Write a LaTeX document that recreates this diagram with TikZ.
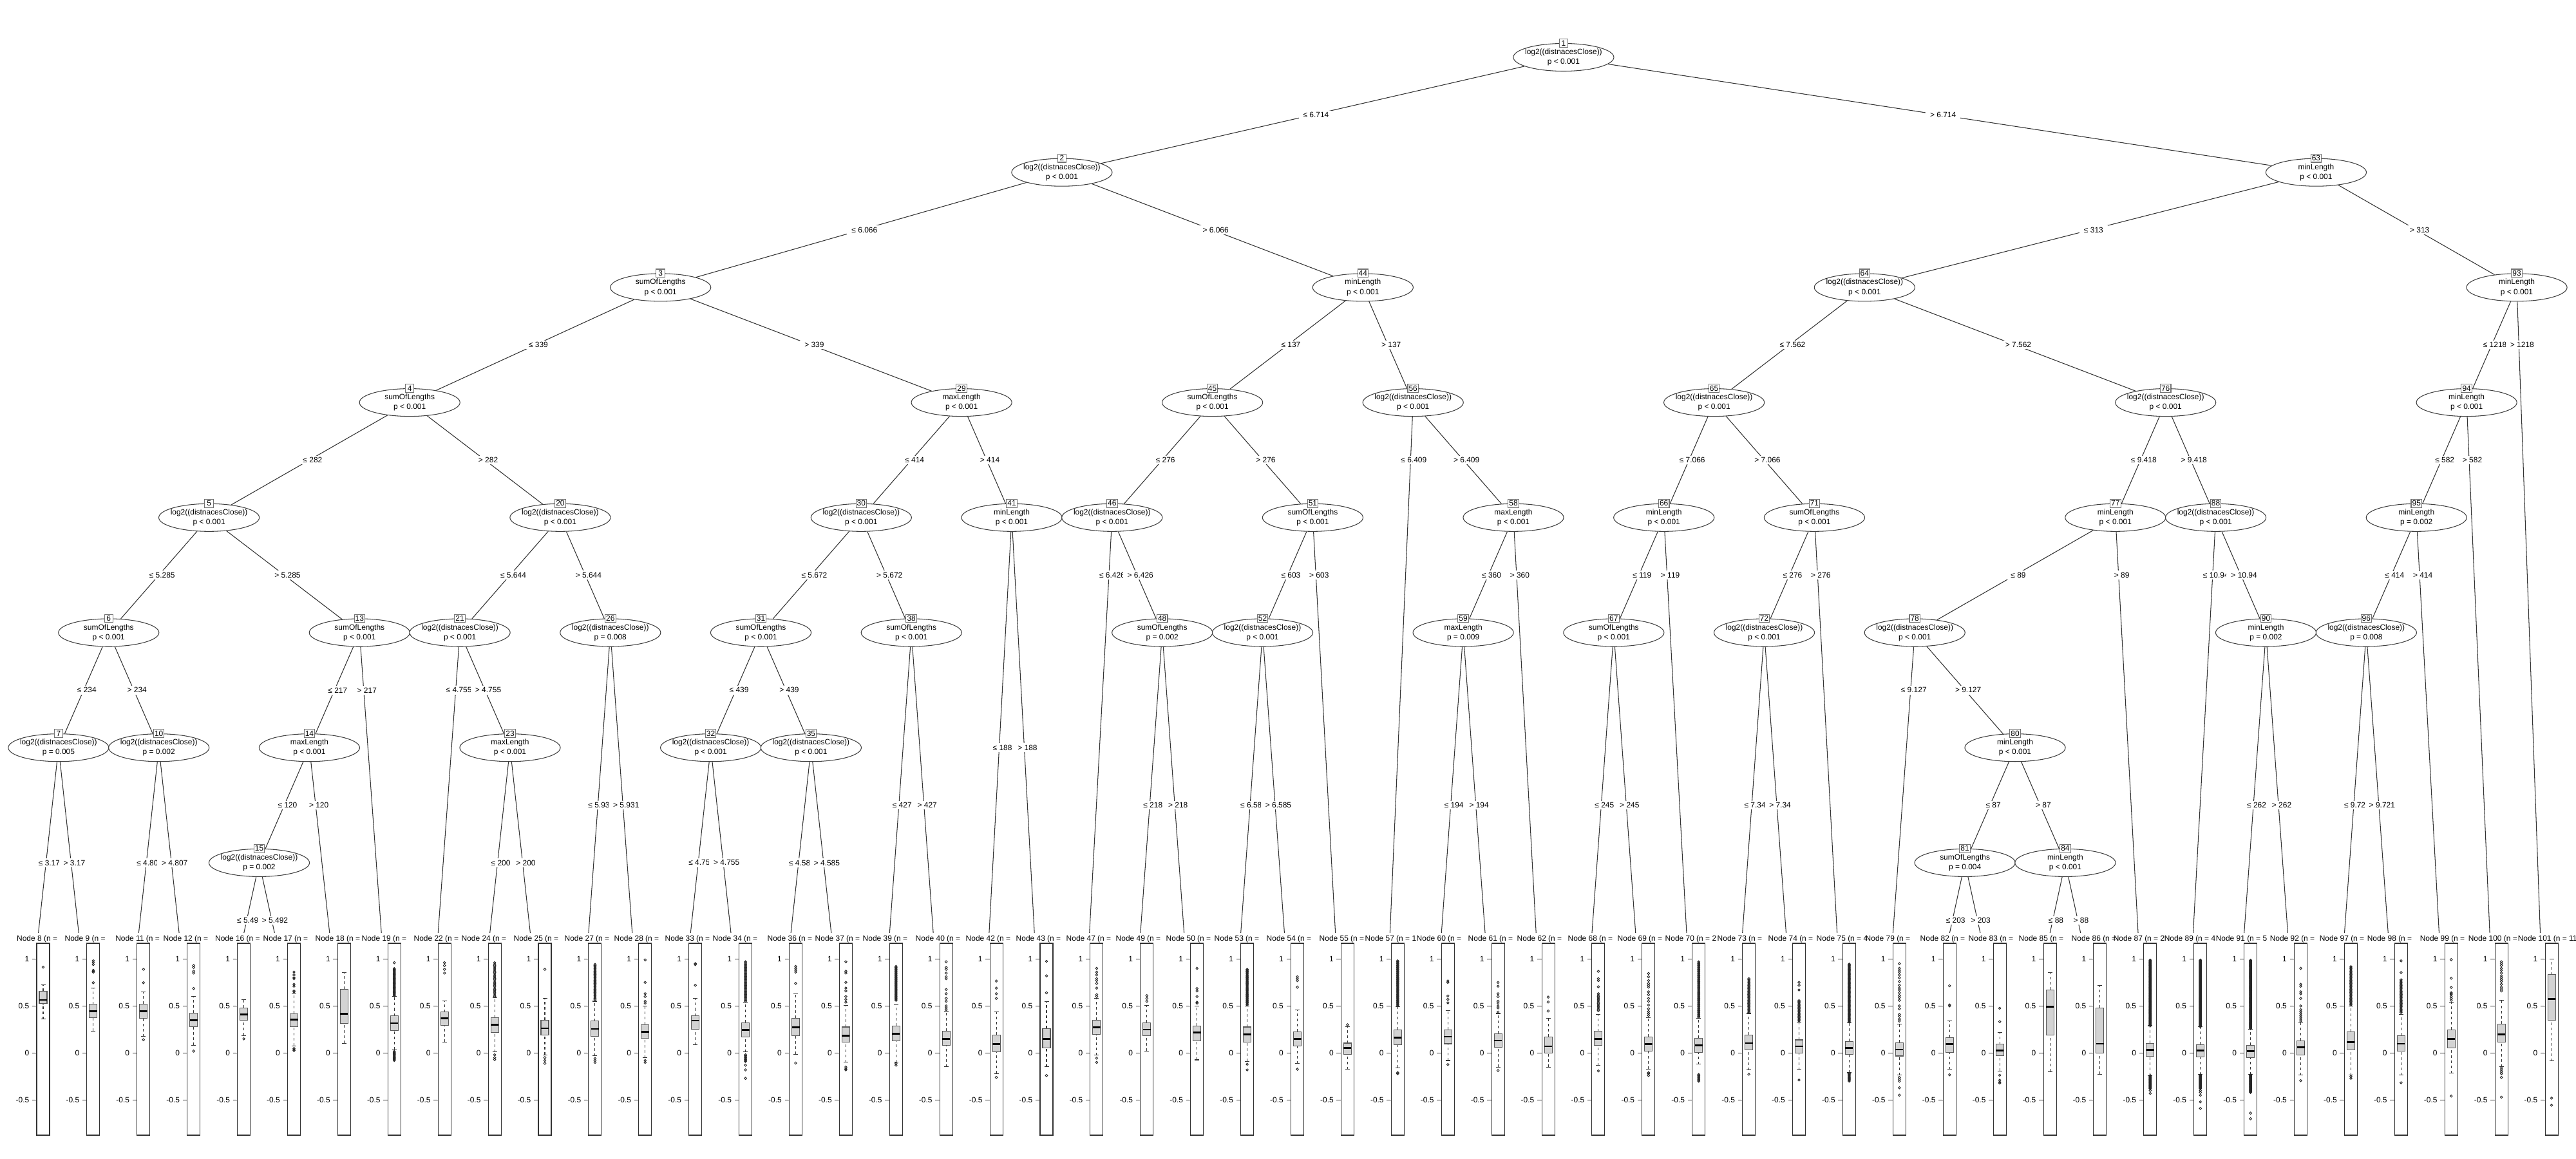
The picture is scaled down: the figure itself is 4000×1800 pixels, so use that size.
\documentclass[tikz,border=0pt]{standalone}
\usepackage{fontspec}
\setmainfont{Liberation Sans}
\usetikzlibrary{shapes.geometric,calc}
\definecolor{rlightgray}{HTML}{D3D3D3}
\newcommand\tfont{\fontsize{3.4}{4.27}\selectfont}
\newcommand\vdist{log2((distnacesClose))}
\newcommand\vsum{sumOfLengths}
\newcommand\vmax{maxLength}
\newcommand\vmin{minLength}
\tikzset{
  splitnode/.style={ellipse,draw=black!75,fill=white,line width=0.3pt,minimum width=1.56cm,minimum height=0.43cm,inner xsep=-0.05cm,inner ysep=0pt,align=center},
  idbox/.style={draw=black!55,fill=white,line width=0.3pt,inner xsep=0.016cm,inner ysep=0pt,minimum width=0.135cm,minimum height=0.127cm},
  branch/.style={draw=black!80,line width=0.3pt},
  elab/.style={fill=white,inner xsep=0.07cm,inner ysep=0.025cm,xshift=0.05cm},
  tlab/.style={anchor=base west,inner sep=0pt},
  ticklab/.style={anchor=east,inner sep=0pt},
  panelframe/.style={draw=black!80,line width=0.3pt},
  whisk/.style={draw=black!80,line width=0.3pt,dash pattern=on 0.04cm off 0.04cm},
  boxst/.style={draw=black!65,fill=rlightgray,line width=0.3pt},
  medline/.style={line width=0.75pt},
  outl/.style={draw=black!85,line width=0.25pt}
}
\newcommand\inode[5]{\node[splitnode] (n#1) at ({13+77.9*#2},{89+178.7*(#3-1)}) {#4\\#5};}
\newcommand\tpanel[8]{%
  \pgfmathsetmacro\cx{67+77.9*#1}%
  \node[tlab] (h#1) at (#2,1461) {#3};
  \draw[panelframe] ({\cx-10},1465) rectangle ({\cx+10},1763);
  \foreach \v [count=\j] in {1,0.5,0,-0.5}{%
    \draw[panelframe] ({\cx-10},{1635.3-146*(\v)}) -- ({\cx-17},{1635.3-146*(\v)});
    \node[ticklab] (k#1-\j) at ({\cx-21},{1635.3-146*(\v)}) {\v};}
  \draw[whisk] (\cx,{1635.3-146*(#7)}) -- (\cx,{1635.3-146*(#4)});
  \draw[whisk] (\cx,{1635.3-146*(#6)}) -- (\cx,{1635.3-146*(#8)});
  \draw[panelframe] ({\cx-3.5},{1635.3-146*(#7)}) -- ({\cx+3.5},{1635.3-146*(#7)});
  \draw[panelframe] ({\cx-3.5},{1635.3-146*(#8)}) -- ({\cx+3.5},{1635.3-146*(#8)});
  \draw[boxst] ({\cx-6},{1635.3-146*(#4)}) rectangle ({\cx+6},{1635.3-146*(#6)});
  \draw[medline] ({\cx-6},{1635.3-146*(#5)}) -- ({\cx+6},{1635.3-146*(#5)});
}
\newcommand\outl[2]{\pgfmathsetmacro\cx{67+77.9*#1}\foreach \v in {#2}{\draw[outl] (\cx,{1635.3-146*(\v)}) circle[radius=1.8];}}
\newcommand\dense[4]{\pgfmathsetmacro\cx{67+77.9*#1}\foreach \v in {#2,#3,...,#4}{\draw[outl] (\cx,{1635.3-146*(\v)}) circle[radius=1.8];}}
\def\edgelist{n1/n2/0.5/≤ 6.714,n1/n63/0.5/> 6.714,
n2/n3/0.5/≤ 6.066,n2/n44/0.5/> 6.066,
n63/n64/0.5/≤ 313,n63/n93/0.5/> 313,
n3/n4/0.5/≤ 339,n3/n29/0.5/> 339,
n44/n45/0.5/≤ 137,n44/n56/0.5/> 137,
n64/n65/0.5/≤ 7.562,n64/n76/0.5/> 7.562,
n93/n94/0.5/≤ 1218,n93/t101/0.0833/> 1218,
n4/n5/0.5/≤ 282,n4/n20/0.5/> 282,
n29/n30/0.5/≤ 414,n29/n41/0.5/> 414,
n45/n46/0.5/≤ 276,n45/n51/0.5/> 276,
n56/t57/0.1/≤ 6.409,n56/n58/0.5/> 6.409,
n65/n66/0.5/≤ 7.066,n65/n71/0.5/> 7.066,
n76/n77/0.5/≤ 9.418,n76/n88/0.5/> 9.418,
n94/n95/0.5/≤ 582,n94/t100/0.1/> 582,
n5/n6/0.5/≤ 5.285,n5/n13/0.5/> 5.285,
n20/n21/0.5/≤ 5.644,n20/n26/0.5/> 5.644,
n30/n31/0.5/≤ 5.672,n30/n38/0.5/> 5.672,
n41/t42/0.5/≤ 188,n41/t43/0.5/> 188,
n46/t47/0.125/≤ 6.426,n46/n48/0.5/> 6.426,
n51/n52/0.5/≤ 603,n51/t55/0.125/> 603,
n58/n59/0.5/≤ 360,n58/t62/0.125/> 360,
n66/n67/0.5/≤ 119,n66/t70/0.125/> 119,
n71/n72/0.5/≤ 276,n71/t75/0.125/> 276,
n77/n78/0.5/≤ 89,n77/t87/0.125/> 89,
n88/t89/0.125/≤ 10.94,n88/n90/0.5/> 10.94,
n95/n96/0.5/≤ 414,n95/t99/0.125/> 414,
n6/n7/0.5/≤ 234,n6/n10/0.5/> 234,
n13/n14/0.5/≤ 217,n13/t19/0.1667/> 217,
n21/t22/0.1667/≤ 4.755,n21/n23/0.5/> 4.755,
n26/t27/0.5/≤ 5.931,n26/t28/0.5/> 5.931,
n31/n32/0.5/≤ 439,n31/n35/0.5/> 439,
n38/t39/0.5/≤ 427,n38/t40/0.5/> 427,
n48/t49/0.5/≤ 218,n48/t50/0.5/> 218,
n52/t53/0.5/≤ 6.585,n52/t54/0.5/> 6.585,
n59/t60/0.5/≤ 194,n59/t61/0.5/> 194,
n67/t68/0.5/≤ 245,n67/t69/0.5/> 245,
n72/t73/0.5/≤ 7.34,n72/t74/0.5/> 7.34,
n78/t79/0.1667/≤ 9.127,n78/n80/0.5/> 9.127,
n90/t91/0.5/≤ 262,n90/t92/0.5/> 262,
n96/t97/0.5/≤ 9.721,n96/t98/0.5/> 9.721,
n7/t8/0.5/≤ 3.17,n7/t9/0.5/> 3.17,
n10/t11/0.5/≤ 4.807,n10/t12/0.5/> 4.807,
n14/n15/0.5/≤ 120,n14/t18/0.25/> 120,
n23/t24/0.5/≤ 200,n23/t25/0.5/> 200,
n32/t33/0.5/≤ 4.755,n32/t34/0.5/> 4.755,
n35/t36/0.5/≤ 4.585,n35/t37/0.5/> 4.585,
n80/n81/0.5/≤ 87,n80/n84/0.5/> 87,
n15/t16/0.5/≤ 5.492,n15/t17/0.5/> 5.492,
n81/t82/0.5/≤ 203,n81/t83/0.5/> 203,
n84/t85/0.5/≤ 88,n84/t86/0.5/> 88}
\begin{document}
\begin{tikzpicture}[x=0.01cm,y=-0.01cm,font=\tfont]
  \fill[white] (0,0) rectangle (4000,1800);
  \useasboundingbox (0,0) rectangle (4000,1800);
  \inode{1}{31}{1}{\vdist}{p < 0.001}
  \inode{2}{21}{2}{\vdist}{p < 0.001}
  \inode{63}{46}{2}{\vmin}{p < 0.001}
  \inode{3}{13}{3}{\vsum}{p < 0.001}
  \inode{44}{27}{3}{\vmin}{p < 0.001}
  \inode{64}{37}{3}{\vdist}{p < 0.001}
  \inode{93}{50}{3}{\vmin}{p < 0.001}
  \inode{4}{8}{4}{\vsum}{p < 0.001}
  \inode{29}{19}{4}{\vmax}{p < 0.001}
  \inode{45}{24}{4}{\vsum}{p < 0.001}
  \inode{56}{28}{4}{\vdist}{p < 0.001}
  \inode{65}{34}{4}{\vdist}{p < 0.001}
  \inode{76}{43}{4}{\vdist}{p < 0.001}
  \inode{94}{49}{4}{\vmin}{p < 0.001}
  \inode{5}{4}{5}{\vdist}{p < 0.001}
  \inode{20}{11}{5}{\vdist}{p < 0.001}
  \inode{30}{17}{5}{\vdist}{p < 0.001}
  \inode{41}{20}{5}{\vmin}{p < 0.001}
  \inode{46}{22}{5}{\vdist}{p < 0.001}
  \inode{51}{26}{5}{\vsum}{p < 0.001}
  \inode{58}{30}{5}{\vmax}{p < 0.001}
  \inode{66}{33}{5}{\vmin}{p < 0.001}
  \inode{71}{36}{5}{\vsum}{p < 0.001}
  \inode{77}{42}{5}{\vmin}{p < 0.001}
  \inode{88}{44}{5}{\vdist}{p < 0.001}
  \inode{95}{48}{5}{\vmin}{p = 0.002}
  \inode{6}{2}{6}{\vsum}{p < 0.001}
  \inode{13}{7}{6}{\vsum}{p < 0.001}
  \inode{21}{9}{6}{\vdist}{p < 0.001}
  \inode{26}{12}{6}{\vdist}{p = 0.008}
  \inode{31}{15}{6}{\vsum}{p < 0.001}
  \inode{38}{18}{6}{\vsum}{p < 0.001}
  \inode{48}{23}{6}{\vsum}{p = 0.002}
  \inode{52}{25}{6}{\vdist}{p < 0.001}
  \inode{59}{29}{6}{\vmax}{p = 0.009}
  \inode{67}{32}{6}{\vsum}{p < 0.001}
  \inode{72}{35}{6}{\vdist}{p < 0.001}
  \inode{78}{38}{6}{\vdist}{p < 0.001}
  \inode{90}{45}{6}{\vmin}{p = 0.002}
  \inode{96}{47}{6}{\vdist}{p = 0.008}
  \inode{7}{1}{7}{\vdist}{p = 0.005}
  \inode{10}{3}{7}{\vdist}{p = 0.002}
  \inode{14}{6}{7}{\vmax}{p < 0.001}
  \inode{23}{10}{7}{\vmax}{p < 0.001}
  \inode{32}{14}{7}{\vdist}{p < 0.001}
  \inode{35}{16}{7}{\vdist}{p < 0.001}
  \inode{80}{40}{7}{\vmin}{p < 0.001}
  \inode{15}{5}{8}{\vdist}{p = 0.002}
  \inode{81}{39}{8}{\vsum}{p = 0.004}
  \inode{84}{41}{8}{\vmin}{p < 0.001}
  \foreach \id [count=\i from 0] in {8,9,11,12,16,17,18,19,22,24,25,27,28,33,34,36,37,39,40,42,43,47,49,50,53,54,55,57,60,61,62,68,69,70,73,74,75,79,82,83,85,86,87,89,91,92,97,98,99,100,101}
    \coordinate (t\id) at ({52+77.9*\i},1518.6);
  \foreach \pa/\ch/\fr/\lab in \edgelist {\draw[branch] (\pa) -- (\ch);}
  \foreach \pa/\ch/\fr/\lab in \edgelist {\node[elab] (e\ch) at ($(\pa.center)!\fr!(\ch.center)$) {\lab};}
  \foreach \i in {1,2,63,3,44,64,93,4,29,45,56,65,76,94,5,20,30,41,46,51,58,66,71,77,88,95,6,13,21,26,31,38,48,52,59,67,72,78,90,96,7,10,14,23,32,35,80,15,81,84}
    \node[idbox] (b\i) at (n\i.north) {\i};
  \fill[white] (0,1449) rectangle (4000,1800);
  \tpanel{0}{25.5}{Node 8 (n =}{0.526}{0.563}{0.658}{0.36}{0.724}
  \outl{0}{0.913}
  \tpanel{1}{100}{Node 9 (n =}{0.374}{0.446}{0.519}{0.232}{0.692}
  \outl{1}{0.747,0.86,0.87,0.88,0.94,0.96,0.98}
  \tpanel{2}{178.6}{Node 11 (n =}{0.369}{0.446}{0.522}{0.175}{0.651}
  \outl{2}{0.89,0.747,0.141}
  \tpanel{3}{253}{Node 12 (n =}{0.28}{0.349}{0.424}{0.084}{0.599}
  \outl{3}{0.93,0.91,0.87,0.85,0.686,0.02}
  \tpanel{4}{333.5}{Node 16 (n =}{0.351}{0.41}{0.481}{0.185}{0.569}
  \outl{4}{0.15}
  \tpanel{5}{408}{Node 17 (n =}{0.278}{0.353}{0.419}{0.075}{0.63}
  \outl{5}{0.86,0.83,0.8,0.79,0.73,0.71,0.66,0.65,0.048,0.035,0.025}
  \tpanel{6}{489}{Node 18 (n =}{0.314}{0.417}{0.677}{0.103}{0.852}
  \tpanel{7}{561}{Node 19 (n =}{0.241}{0.317}{0.396}{0.035}{0.6}
  \outl{7}{0.96}
  \dense{7}{0.61}{0.618}{0.9}
  \dense{7}{-0.08}{-0.072}{0.02}
  \tpanel{8}{642}{Node 22 (n =}{0.294}{0.367}{0.435}{0.116}{0.553}
  \outl{8}{0.96,0.93,0.89,0.85}
  \tpanel{9}{716}{Node 24 (n =}{0.219}{0.298}{0.376}{0.01}{0.59}
  \dense{9}{0.6}{0.615}{0.96}
  \outl{9}{-0.02,-0.05,-0.07}
  \tpanel{10}{797}{Node 25 (n =}{0.189}{0.262}{0.349}{-0.02}{0.579}
  \outl{10}{0.89,-0.05,-0.08,-0.11}
  \tpanel{11}{876}{Node 27 (n =}{0.18}{0.255}{0.339}{-0.03}{0.55}
  \dense{11}{0.57}{0.582}{0.95}
  \outl{11}{-0.06,-0.08,-0.1}
  \tpanel{12}{953}{Node 28 (n =}{0.157}{0.226}{0.303}{-0.05}{0.5}
  \outl{12}{0.99,0.75,0.63,0.6,0.55,0.53,-0.08,-0.1}
  \tpanel{13}{1032}{Node 33 (n =}{0.253}{0.344}{0.396}{0.087}{0.579}
  \outl{13}{0.95,0.94,0.72}
  \tpanel{14}{1106}{Node 34 (n =}{0.169}{0.244}{0.321}{0.01}{0.54}
  \dense{14}{0.55}{0.562}{0.98}
  \dense{14}{-0.09}{-0.08}{-0.02}
  \outl{14}{-0.13,-0.18,-0.27}
  \tpanel{15}{1191}{Node 36 (n =}{0.182}{0.271}{0.371}{-0.014}{0.626}
  \outl{15}{0.92,0.9,0.88,0.86,0.74,-0.107}
  \tpanel{16}{1265}{Node 37 (n =}{0.112}{0.185}{0.276}{-0.1}{0.503}
  \outl{16}{0.97,0.87,0.85,0.75,0.69,0.66,0.6,0.57,0.54,-0.15,-0.17,-0.18}
  \tpanel{17}{1339}{Node 39 (n =}{0.128}{0.203}{0.287}{-0.1}{0.515}
  \dense{17}{0.56}{0.57}{0.93}
  \outl{17}{-0.11,-0.13}
  \tpanel{18}{1421}{Node 40 (n =}{0.082}{0.15}{0.232}{-0.146}{0.446}
  \outl{18}{0.97,0.91,0.89,0.85,0.81,0.79,0.675,0.63,0.58,0.55,0.5,0.48,0.46}
  \tpanel{19}{1499}{Node 42 (n =}{0.014}{0.093}{0.191}{-0.219}{0.435}
  \outl{19}{0.765,0.69,0.63,0.58,-0.26}
  \tpanel{20}{1577}{Node 43 (n =}{0.055}{0.15}{0.26}{-0.146}{0.549}
  \outl{20}{0.975,0.82,0.64,-0.24}
  \tpanel{21}{1655}{Node 47 (n =}{0.196}{0.271}{0.351}{-0.025}{0.583}
  \outl{21}{0.9,0.86,0.83,0.79,0.77,0.74,0.69,0.62,0.6,-0.055,-0.1}
  \tpanel{22}{1732}{Node 49 (n =}{0.185}{0.248}{0.321}{0.02}{0.503}
  \outl{22}{0.61,0.58,0.55}
  \tpanel{23}{1810}{Node 50 (n =}{0.128}{0.216}{0.287}{-0.073}{0.497}
  \outl{23}{0.9,0.686,0.66,0.6,0.54,0.53}
  \tpanel{24}{1885}{Node 53 (n =}{0.112}{0.196}{0.276}{-0.09}{0.5}
  \dense{24}{0.51}{0.52}{0.9}
  \outl{24}{-0.12,-0.18}
  \tpanel{25}{1966}{Node 54 (n =}{0.077}{0.15}{0.226}{-0.112}{0.458}
  \outl{25}{0.81,0.79,0.77,0.7,-0.173}
  \tpanel{26}{2048}{Node 55 (n =}{-0.014}{0.055}{0.105}{-0.173}{0.28}
  \outl{26}{0.3}
  \tpanel{27}{2119}{Node 57 (n = 1}{0.087}{0.164}{0.248}{-0.157}{0.49}
  \dense{27}{0.5}{0.51}{0.98}
  \outl{27}{-0.21,-0.22}
  \tpanel{28}{2199}{Node 60 (n =}{0.098}{0.173}{0.246}{-0.08}{0.451}
  \outl{28}{0.765,0.75,0.606,0.57,0.533,-0.123}
  \tpanel{29}{2279}{Node 61 (n =}{0.059}{0.132}{0.207}{-0.15}{0.42}
  \outl{29}{0.75,0.71,0.63,0.6,0.55,0.53,0.5,0.48,0.435,-0.187}
  \tpanel{30}{2355}{Node 62 (n =}{0}{0.071}{0.173}{-0.15}{0.367}
  \outl{30}{0.594,0.542,0.446}
  \tpanel{31}{2434}{Node 68 (n =}{0.08}{0.15}{0.23}{-0.134}{0.412}
  \outl{31}{0.868,0.79,0.77,0.704,-0.191}
  \dense{31}{0.45}{0.465}{0.63}
  \tpanel{32}{2511}{Node 69 (n =}{0.02}{0.093}{0.173}{-0.17}{0.378}
  \outl{32}{0.845,0.81,0.77,0.74,0.72,0.7,0.65,0.62,0.58,0.55,0.51,0.47,0.44,0.42,0.4,-0.21,-0.22,-0.24}
  \tpanel{33}{2585}{Node 70 (n = 2}{0.007}{0.082}{0.157}{-0.12}{0.37}
  \dense{33}{0.38}{0.39}{0.97}
  \dense{33}{-0.3}{-0.29}{-0.22}
  \tpanel{34}{2666}{Node 73 (n =}{0.032}{0.105}{0.191}{-0.18}{0.42}
  \dense{34}{0.43}{0.442}{0.8}
  \outl{34}{-0.226}
  \tpanel{35}{2745}{Node 74 (n =}{0}{0.071}{0.139}{-0.18}{0.33}
  \outl{35}{0.75,0.72,0.67,-0.287}
  \dense{35}{0.34}{0.352}{0.56}
  \tpanel{36}{2820}{Node 75 (n = 4}{-0.016}{0.052}{0.123}{-0.21}{0.32}
  \dense{36}{0.33}{0.338}{0.95}
  \dense{36}{-0.3}{-0.292}{-0.22}
  \tpanel{37}{2896}{Node 79 (n =}{-0.032}{0.036}{0.109}{-0.237}{0.31}
  \outl{37}{0.95,0.9,0.88,0.86,0.83,0.8,0.76,0.72,0.69,0.67,0.64,0.61,0.59,0.56,0.5,0.47,0.41,0.39,0.36,0.34,-0.26,-0.28,-0.3,-0.37,-0.449}
  \tpanel{38}{2981}{Node 82 (n =}{0.007}{0.093}{0.166}{-0.173}{0.339}
  \outl{38}{0.715,0.51,0.5,-0.232}
  \tpanel{39}{3056}{Node 83 (n =}{-0.027}{0.027}{0.093}{-0.191}{0.219}
  \outl{39}{0.476,0.333,-0.237,-0.29,-0.31,-0.32}
  \tpanel{40}{3134}{Node 85 (n =}{0.191}{0.492}{0.67}{-0.198}{0.852}
  \tpanel{41}{3216}{Node 86 (n =}{0}{0.098}{0.481}{-0.226}{0.72}
  \tpanel{42}{3281}{Node 87 (n = 2}{-0.034}{0.034}{0.103}{-0.24}{0.29}
  \dense{42}{0.29}{0.294}{0.99}
  \dense{42}{-0.38}{-0.376}{-0.24}
  \outl{42}{-0.4,-0.43}
  \tpanel{43}{3360}{Node 89 (n = 4}{-0.041}{0.027}{0.091}{-0.23}{0.28}
  \dense{43}{0.28}{0.284}{0.99}
  \dense{43}{-0.38}{-0.376}{-0.23}
  \outl{43}{-0.4,-0.42,-0.45,-0.52,-0.59}
  \tpanel{44}{3440}{Node 91 (n = 5}{-0.046}{0.02}{0.084}{-0.23}{0.25}
  \dense{44}{0.26}{0.264}{0.99}
  \dense{44}{-0.42}{-0.416}{-0.23}
  \outl{44}{-0.64,-0.7}
  \tpanel{45}{3524}{Node 92 (n =}{-0.02}{0.059}{0.132}{-0.237}{0.33}
  \outl{45}{0.9,0.73,0.71,0.65,0.63,0.58,0.5,0.46,0.44,0.42,0.4,0.38,0.36,0.34,-0.294}
  \tpanel{46}{3601}{Node 97 (n =}{0.032}{0.116}{0.226}{-0.237}{0.5}
  \dense{46}{0.51}{0.522}{0.93}
  \outl{46}{-0.25,-0.27}
  \tpanel{47}{3675}{Node 98 (n =}{0.018}{0.098}{0.185}{-0.237}{0.41}
  \outl{47}{0.98,0.856,-0.317}
  \dense{47}{0.43}{0.442}{0.79}
  \tpanel{48}{3757}{Node 99 (n =}{0.052}{0.148}{0.248}{-0.214}{0.54}
  \outl{48}{0.993,0.795,0.697,0.64,0.63,0.62,0.6,0.58,0.56,-0.458}
  \tpanel{49}{3832}{Node 100 (n =}{0.116}{0.198}{0.31}{-0.146}{0.56}
  \outl{49}{0.97,0.95,0.93,0.9,0.88,0.85,0.82,0.8,0.78,0.76,0.73,0.7,0.68,0.66,-0.16,-0.18,-0.2,-0.22,-0.26,-0.47}
  \tpanel{50}{3909}{Node 101 (n = 11}{0.351}{0.576}{0.834}{-0.084}{1}
  \outl{50}{-0.48,-0.556}
\end{tikzpicture}
\end{document}
